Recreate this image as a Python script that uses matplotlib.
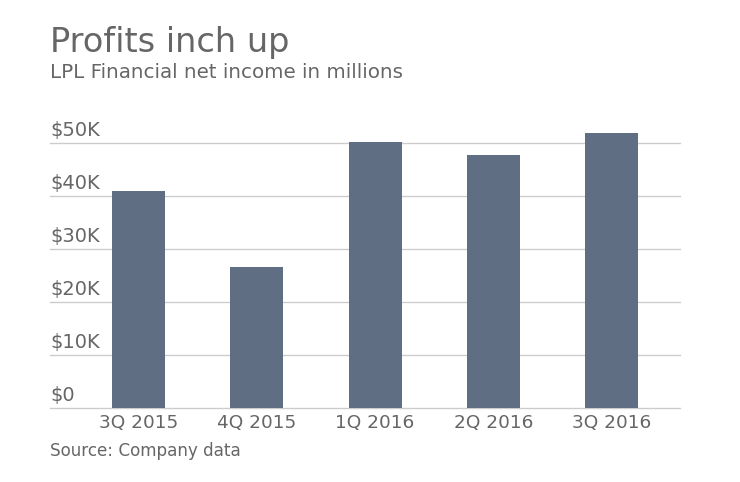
import matplotlib
matplotlib.use("Agg")
import matplotlib.pyplot as plt
import matplotlib.transforms as mtransforms

quarters = ["3Q 2015", "4Q 2015", "1Q 2016", "2Q 2016", "3Q 2016"]
net_income = [41.0, 26.6, 50.2, 47.7, 51.9]  # thousands of dollars as shown
ytick_vals = [0, 10, 20, 30, 40, 50]
ytick_labels = ["$0", "$10K", "$20K", "$30K", "$40K", "$50K"]

W, H = 740, 482
fig = plt.figure(figsize=(W / 100, H / 100), dpi=100)
plt.rcParams['font.family'] = ['DejaVu Sans']

left, right = 50, 680
base, top = 408.3, 116.8
ax = fig.add_axes([left / W, (H - base) / H, (right - left) / W, (base - top) / H])

bar_color = "#5f6e82"
grid_color = "#cccccc"
txt = "#666666"

x = list(range(len(quarters)))
ax.bar(x, net_income, width=0.448, color=bar_color, zorder=3)
ax.set_xlim(-0.748, 4.577)
ax.set_ylim(0, 55)

for v in ytick_vals:
    ax.axhline(v, color=grid_color, lw=1.0, zorder=1, clip_on=False)

for side in ["top", "right", "left", "bottom"]:
    ax.spines[side].set_visible(False)
ax.set_xticks(x)
ax.set_xticklabels(quarters, fontsize=13.3, color=txt)
ax.tick_params(axis="x", length=0, pad=4)
ax.set_yticks([])

trans = mtransforms.blended_transform_factory(ax.transAxes, ax.transData)
off = mtransforms.offset_copy(trans, fig=fig, x=0, y=2.5, units="points")
for v, lab in zip(ytick_vals, ytick_labels):
    ax.text(0, v, lab, transform=off, ha="left", va="bottom",
            fontsize=14, color=txt, zorder=4)

fig.text(left / W, 1 - 52 / H, "Profits inch up", fontsize=24.2, color=txt,
         ha="left", va="baseline")
fig.text(left / W, 1 - 78 / H, "LPL Financial net income in millions",
         fontsize=14.3, color=txt, ha="left", va="baseline")
fig.text(left / W, 1 - 456 / H, "Source: Company data", fontsize=12.1,
         color=txt, ha="left", va="baseline")

fig.savefig("out.png", dpi=100)
